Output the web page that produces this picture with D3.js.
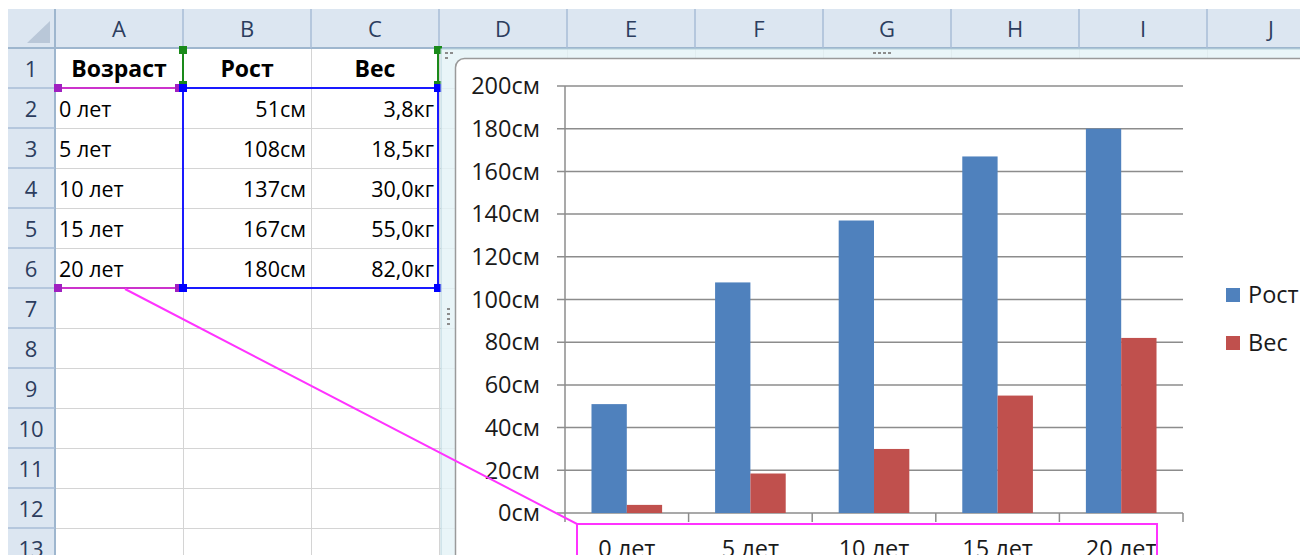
<!DOCTYPE html>
<html>
<head>
<meta charset="utf-8">
<script src="https://cdn.jsdelivr.net/npm/d3@7"></script>
<style>
  body { margin: 0; background: #fff; overflow: hidden; }
  text { font-family: "Open Sans", "Noto Sans", sans-serif; }
</style>
</head>
<body>
<script>
// data
var categories = ["0 лет", "5 лет", "10 лет", "15 лет", "20 лет"];
var rost = [51, 108, 137, 167, 180];
var ves = [3.8, 18.5, 30.0, 55.0, 82.0];
var seriesNames = ["Рост", "Вес"];
var headers = ["Возраст", "Рост", "Вес"];
var yTicks = [0, 20, 40, 60, 80, 100, 120, 140, 160, 180, 200];
var colLetters = ["A", "B", "C", "D", "E", "F", "G", "H", "I", "J"];
var rowNumbers = [1, 2, 3, 4, 5, 6, 7, 8, 9, 10, 11, 12, 13];

window.onload = function(){
  var w = 1300, h = 555;
  var colors = ["#4f81bd", "#c0504d"];
  var chartFont = 23.5;

  var svg = d3.select('body').append('svg')
    .attr('width', w)
    .attr('height', h);

  // sheet geometry: column index -> left edge, row number -> top edge
  var colX = d3.scaleLinear().domain([0, 1]).range([55, 183]);
  var rowY = d3.scaleLinear().domain([1, 2]).range([48, 88]);

  var sheet = svg.append('g');

  // cell gridlines
  sheet.selectAll('.hline')
    .data(rowNumbers)
    .enter().append('line')
    .attr('x1', 55).attr('x2', w)
    .attr('y1', function(d){ return rowY(d + 1) + 0.5; })
    .attr('y2', function(d){ return rowY(d + 1) + 0.5; })
    .attr('stroke', '#d4d4d4');
  sheet.selectAll('.vline')
    .data(colLetters)
    .enter().append('line')
    .attr('x1', function(d, i){ return colX(i + 1) + 0.5; })
    .attr('x2', function(d, i){ return colX(i + 1) + 0.5; })
    .attr('y1', 48).attr('y2', h)
    .attr('stroke', '#d4d4d4');

  // header bands
  sheet.append('rect')
    .attr('x', 8).attr('y', 9).attr('width', w).attr('height', 39)
    .attr('fill', '#dce6f1');
  sheet.append('rect')
    .attr('x', 8).attr('y', 48).attr('width', 47).attr('height', h)
    .attr('fill', '#dce6f1');
  sheet.append('line')
    .attr('x1', 8).attr('x2', w).attr('y1', 48).attr('y2', 48)
    .attr('stroke', '#9eb6ce').attr('stroke-width', 2);
  sheet.append('line')
    .attr('x1', 55).attr('x2', 55).attr('y1', 9).attr('y2', h)
    .attr('stroke', '#9eb6ce').attr('stroke-width', 2);
  sheet.append('path')
    .attr('d', 'M27,43 L50,43 L50,21 Z')
    .attr('fill', '#b9c7d8');

  sheet.selectAll('.colsep')
    .data(colLetters)
    .enter().append('line')
    .attr('x1', function(d, i){ return colX(i + 1); })
    .attr('x2', function(d, i){ return colX(i + 1); })
    .attr('y1', 9).attr('y2', 48)
    .attr('stroke', '#a8bdd6').attr('stroke-width', 1.5);
  sheet.selectAll('.colletter')
    .data(colLetters)
    .enter().append('text')
    .attr('x', function(d, i){ return colX(i + 0.5); })
    .attr('y', 29)
    .attr('dy', '0.35em')
    .attr('text-anchor', 'middle')
    .attr('font-size', 22)
    .attr('fill', '#2c3d5e')
    .text(function(d){ return d; });

  sheet.selectAll('.rowsep')
    .data(rowNumbers)
    .enter().append('line')
    .attr('x1', 8).attr('x2', 55)
    .attr('y1', function(d){ return rowY(d + 1); })
    .attr('y2', function(d){ return rowY(d + 1); })
    .attr('stroke', '#a8bdd6').attr('stroke-width', 1.5);
  sheet.selectAll('.rownum')
    .data(rowNumbers)
    .enter().append('text')
    .attr('x', 31)
    .attr('y', function(d){ return rowY(d + 0.5) + 1; })
    .attr('dy', '0.35em')
    .attr('text-anchor', 'middle')
    .attr('font-size', 22)
    .attr('fill', '#2c3d5e')
    .text(function(d){ return d; });

  // table contents
  sheet.selectAll('.head')
    .data(headers)
    .enter().append('text')
    .attr('x', function(d, i){ return colX(i + 0.5); })
    .attr('y', rowY(1.5) + 1)
    .attr('dy', '0.35em')
    .attr('text-anchor', 'middle')
    .attr('font-size', 23)
    .attr('font-weight', 'bold')
    .text(function(d){ return d; });
  sheet.selectAll('.age')
    .data(categories)
    .enter().append('text')
    .attr('x', colX(0) + 4)
    .attr('y', function(d, i){ return rowY(i + 2.5) + 1; })
    .attr('dy', '0.35em')
    .attr('font-size', 21.5)
    .text(function(d){ return d; });
  sheet.selectAll('.rost')
    .data(rost)
    .enter().append('text')
    .attr('x', colX(2) - 5)
    .attr('y', function(d, i){ return rowY(i + 2.5) + 1; })
    .attr('dy', '0.35em')
    .attr('text-anchor', 'end')
    .attr('font-size', 21.5)
    .text(function(d){ return d + 'см'; });
  sheet.selectAll('.ves')
    .data(ves)
    .enter().append('text')
    .attr('x', colX(3) - 5)
    .attr('y', function(d, i){ return rowY(i + 2.5) + 1; })
    .attr('dy', '0.35em')
    .attr('text-anchor', 'end')
    .attr('font-size', 21.5)
    .text(function(d){ return d.toFixed(1).replace('.', ',') + 'кг'; });

  // source range highlights
  var yTop = rowY(2), yBot = rowY(categories.length + 2);
  var hl = svg.append('g');
  hl.selectAll('.mag')
    .data([yTop, yBot])
    .enter().append('line')
    .attr('x1', 58).attr('x2', colX(1) - 3)
    .attr('y1', function(d){ return d; })
    .attr('y2', function(d){ return d; })
    .attr('stroke', '#cc33cc').attr('stroke-width', 2);
  hl.append('rect')
    .attr('x', colX(1)).attr('y', yTop)
    .attr('width', colX(3) - colX(1) - 1).attr('height', yBot - yTop)
    .attr('fill', 'none').attr('stroke', '#1a1aff').attr('stroke-width', 2);
  hl.selectAll('.grn')
    .data([colX(1), colX(3) - 1])
    .enter().append('line')
    .attr('x1', function(d){ return d; })
    .attr('x2', function(d){ return d; })
    .attr('y1', 50).attr('y2', yTop)
    .attr('stroke', '#1a8a1a').attr('stroke-width', 2);
  var handles = [
    {x: 58, y: yTop, c: '#a020c0'}, {x: colX(1) - 4, y: yTop, c: '#a020c0'},
    {x: 58, y: yBot, c: '#a020c0'}, {x: colX(1) - 4, y: yBot, c: '#a020c0'},
    {x: colX(1), y: 50, c: '#1a8a1a'}, {x: colX(3) - 1, y: 50, c: '#1a8a1a'},
    {x: colX(1), y: yTop - 3, c: '#1a8a1a'}, {x: colX(3) - 1, y: yTop - 3, c: '#1a8a1a'},
    {x: colX(1), y: yTop, c: '#0000ff'}, {x: colX(3) - 1, y: yTop, c: '#0000ff'},
    {x: colX(1), y: yBot, c: '#0000ff'}, {x: colX(3) - 1, y: yBot, c: '#0000ff'}
  ];
  hl.selectAll('.handle')
    .data(handles)
    .enter().append('rect')
    .attr('x', function(d){ return d.x - 4; })
    .attr('y', function(d){ return d.y - 4; })
    .attr('width', 8).attr('height', 8)
    .attr('fill', function(d){ return d.c; });

  // chart object frame (selected)
  svg.append('rect')
    .attr('x', 441).attr('y', 49).attr('width', 900).attr('height', 600)
    .attr('fill', '#e3f3f6').attr('fill-opacity', 0.8)
    .attr('stroke', '#b7d3dc');
  svg.append('rect')
    .attr('x', 455.5).attr('y', 58.5).attr('width', 900).attr('height', 600)
    .attr('rx', 9)
    .attr('fill', '#fff').attr('stroke', '#9a9a9a').attr('stroke-width', 1.5);
  var dots = [[445, 52], [450, 52], [445, 57], [873, 52], [878, 52], [883, 52], [888, 52],
              [447, 308], [447, 313], [447, 318], [447, 323]];
  svg.selectAll('.dot')
    .data(dots)
    .enter().append('rect')
    .attr('x', function(d){ return d[0]; })
    .attr('y', function(d){ return d[1]; })
    .attr('width', 3).attr('height', 2)
    .attr('fill', '#8c8c8c');

  // chart scales
  var y = d3.scaleLinear().domain([0, 200]).range([513, 86]);
  var x0 = d3.scaleBand().domain(categories).range([565, 1183]);
  var bw = x0.bandwidth() / 3.5; // gap width 150%
  var x1 = d3.scaleBand().domain(seriesNames)
    .range([bw * 0.75, x0.bandwidth() - bw * 0.75]);

  var chart = svg.append('g');

  chart.selectAll('.grid')
    .data(yTicks)
    .enter().append('line')
    .attr('x1', 557).attr('x2', 1183)
    .attr('y1', function(d){ return y(d); })
    .attr('y2', function(d){ return y(d); })
    .attr('stroke', '#8c8c8c').attr('stroke-width', 1.5);
  chart.append('line')
    .attr('x1', 565).attr('x2', 565).attr('y1', y(200)).attr('y2', y(0))
    .attr('stroke', '#8c8c8c').attr('stroke-width', 1.5);
  chart.selectAll('.xtick')
    .data(categories.concat(['end']))
    .enter().append('line')
    .attr('x1', function(d, i){ return i < categories.length ? x0(d) : x0.range()[1]; })
    .attr('x2', function(d, i){ return i < categories.length ? x0(d) : x0.range()[1]; })
    .attr('y1', y(0)).attr('y2', y(0) + 9)
    .attr('stroke', '#8c8c8c').attr('stroke-width', 1.5);

  chart.selectAll('.ylabel')
    .data(yTicks)
    .enter().append('text')
    .attr('x', 540)
    .attr('y', function(d){ return y(d); })
    .attr('dy', '0.35em')
    .attr('text-anchor', 'end')
    .attr('font-size', chartFont)
    .attr('fill', '#1a1a1a')
    .text(function(d){ return d + 'см'; });

  var groups = chart.selectAll('.cat')
    .data(categories)
    .enter().append('g')
    .attr('transform', function(d){ return 'translate(' + x0(d) + ',0)'; });
  groups.selectAll('rect')
    .data(function(d, i){ return [rost[i], ves[i]]; })
    .enter().append('rect')
    .attr('x', function(d, j){ return x1(seriesNames[j]); })
    .attr('y', function(d){ return y(d); })
    .attr('width', x1.bandwidth())
    .attr('height', function(d){ return y(0) - y(d); })
    .attr('fill', function(d, j){ return colors[j]; });

  chart.selectAll('.xlabel')
    .data(categories)
    .enter().append('text')
    .attr('x', function(d){ return x0(d) + x0.bandwidth() / 2; })
    .attr('y', 557)
    .attr('text-anchor', 'middle')
    .attr('font-size', chartFont)
    .attr('fill', '#1a1a1a')
    .text(function(d){ return d; });

  // legend
  var legend = chart.selectAll('.legend')
    .data(seriesNames)
    .enter().append('g')
    .attr('transform', function(d, i){ return 'translate(1226,' + (288 + i * 48) + ')'; });
  legend.append('rect')
    .attr('width', 14).attr('height', 14)
    .attr('fill', function(d, i){ return colors[i]; });
  legend.append('text')
    .attr('x', 22).attr('y', 7).attr('dy', '0.35em')
    .attr('font-size', chartFont)
    .attr('fill', '#1a1a1a')
    .text(function(d){ return d; });

  // category range highlight, linked to the sheet
  svg.append('polyline')
    .attr('points', '125,' + (yBot + 1) + ' 577,524 1157,524 1157,' + (h + 5))
    .attr('fill', 'none').attr('stroke', '#ff33ff').attr('stroke-width', 2);
  svg.append('line')
    .attr('x1', 577).attr('x2', 577).attr('y1', 524).attr('y2', h + 5)
    .attr('stroke', '#ff33ff').attr('stroke-width', 2);
};
</script>
</body>
</html>
